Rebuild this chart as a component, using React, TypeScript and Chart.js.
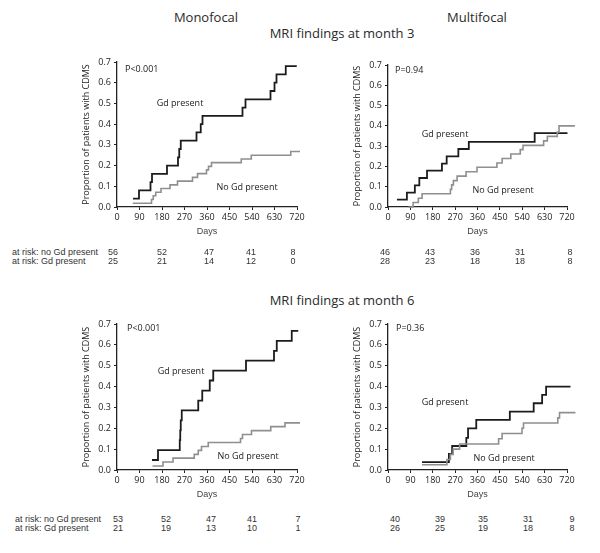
import React, { useEffect, useRef } from "react";
import { Chart, registerables } from "chart.js";

Chart.register(...registerables);

// ---------- data ----------
const xTickValues = [0, 90, 180, 270, 360, 450, 540, 630, 720];
const yTickValues = [0, 0.1, 0.2, 0.3, 0.4, 0.5, 0.6, 0.7];

// Monofocal, MRI at month 3
const monoM3GdDays = [64, 88, 134, 140, 200, 244, 249, 255, 318, 335, 342, 502, 514, 614, 630, 638, 675, 719];
const monoM3GdProp = [0.04, 0.08, 0.12, 0.16, 0.2, 0.24, 0.28, 0.32, 0.36, 0.4, 0.44, 0.48, 0.52, 0.56, 0.6, 0.64, 0.68, 0.68];
const monoM3NoGdDays = [63, 138, 145, 155, 176, 212, 242, 302, 322, 358, 366, 378, 497, 537, 695, 732];
const monoM3NoGdProp = [0.018, 0.036, 0.054, 0.071, 0.089, 0.107, 0.125, 0.143, 0.161, 0.179, 0.196, 0.214, 0.232, 0.25, 0.268, 0.268];

// Multifocal, MRI at month 3
const multiM3GdDays = [36, 76, 108, 126, 157, 217, 236, 283, 325, 590, 722];
const multiM3GdProp = [0.036, 0.071, 0.107, 0.143, 0.179, 0.214, 0.25, 0.286, 0.321, 0.364, 0.364];
const multiM3NoGdDays = [82, 101, 122, 137, 251, 256, 263, 278, 314, 358, 438, 459, 494, 532, 543, 626, 641, 681, 688, 752];
const multiM3NoGdProp = [0, 0.022, 0.043, 0.065, 0.087, 0.109, 0.13, 0.152, 0.174, 0.196, 0.217, 0.239, 0.261, 0.283, 0.304, 0.326, 0.348, 0.37, 0.4, 0.4];

// Monofocal, MRI at month 6
const monoM6GdDays = [140, 164, 251, 253, 255, 259, 325, 341, 371, 385, 516, 628, 639, 699, 725];
const monoM6GdProp = [0.048, 0.095, 0.143, 0.19, 0.238, 0.286, 0.333, 0.381, 0.429, 0.476, 0.524, 0.571, 0.619, 0.667, 0.667];
const monoM6NoGdDays = [142, 184, 224, 309, 325, 338, 365, 494, 502, 538, 615, 672, 732];
const monoM6NoGdProp = [0.019, 0.038, 0.057, 0.075, 0.094, 0.113, 0.132, 0.151, 0.17, 0.189, 0.208, 0.226, 0.226];

// Multifocal, MRI at month 6
const multiM6GdDays = [137, 245, 258, 315, 322, 355, 490, 586, 620, 636, 734];
const multiM6GdProp = [0.038, 0.077, 0.115, 0.154, 0.2, 0.24, 0.28, 0.32, 0.36, 0.4, 0.4];
const multiM6NoGdDays = [137, 237, 251, 262, 288, 445, 459, 539, 545, 683, 690, 754];
const multiM6NoGdProp = [0.025, 0.05, 0.075, 0.1, 0.125, 0.15, 0.175, 0.2, 0.225, 0.25, 0.275, 0.275];

// Numbers at risk
const monoM3AtRiskNoGd = [56, 52, 47, 41, 8];
const monoM3AtRiskGd = [25, 21, 14, 12, 0];
const multiM3AtRiskNoGd = [46, 43, 36, 31, 8];
const multiM3AtRiskGd = [28, 23, 18, 18, 8];
const monoM6AtRiskNoGd = [53, 52, 47, 41, 7];
const monoM6AtRiskGd = [21, 19, 13, 10, 1];
const multiM6AtRiskNoGd = [40, 39, 35, 31, 9];
const multiM6AtRiskGd = [26, 25, 19, 18, 8];

const pValues = ["P<0.001", "P=0.94", "P<0.001", "P=0.36"];

// ---------- styling / layout ----------
const FONT = "'Open Sans', 'DejaVu Sans', sans-serif";
const ARIAL = "'Liberation Sans', Arial, sans-serif";
const PAD_L = 36;
const PAD_T = 12;
const PAD_R = 24;
const PAD_B = 30;

type KMProps = {
  axisX: number;
  topY: number;
  bottomY: number;
  plotW: number;
  gdDays: number[];
  gdProp: number[];
  noDays: number[];
  noProp: number[];
};

function KMChart({ axisX, topY, bottomY, plotW, gdDays, gdProp, noDays, noProp }: KMProps) {
  const ref = useRef<HTMLCanvasElement | null>(null);
  const plotH = bottomY - topY;
  const w = PAD_L + plotW + PAD_R;
  const h = PAD_T + plotH + PAD_B;

  useEffect(() => {
    if (!ref.current) return;
    const chart = new Chart(ref.current, {
      type: "line",
      data: {
        datasets: [
          {
            label: "No Gd present",
            data: noDays.map((d, i) => ({ x: d, y: noProp[i] })),
            borderColor: "#8f8f8f",
            borderWidth: 1.6,
            stepped: "before",
            pointRadius: 0,
            fill: false,
            clip: false as any,
            borderJoinStyle: "miter",
          },
          {
            label: "Gd present",
            data: gdDays.map((d, i) => ({ x: d, y: gdProp[i] })),
            borderColor: "#1c1c1c",
            borderWidth: 1.8,
            stepped: "before",
            pointRadius: 0,
            fill: false,
            clip: false as any,
            borderJoinStyle: "miter",
          },
        ],
      },
      options: {
        responsive: false,
        maintainAspectRatio: false,
        animation: false,
        events: [],
        layout: { padding: { top: PAD_T, right: PAD_R, left: 0, bottom: 0 } },
        plugins: { legend: { display: false }, tooltip: { enabled: false } },
        scales: {
          x: {
            type: "linear",
            min: 0,
            max: 720,
            afterFit: (s: any) => {
              s.height = PAD_B;
            },
            afterBuildTicks: (s: any) => {
              s.ticks = xTickValues.map((v) => ({ value: v }));
            },
            grid: { drawOnChartArea: false, tickLength: 3, color: "#222", lineWidth: 1 },
            border: { color: "#222", width: 1.3 },
            ticks: { padding: 2, color: "#222", font: { family: FONT, size: 9 }, maxRotation: 0, autoSkip: false },
            title: { display: true, text: "Days", padding: 0, color: "#444", font: { family: ARIAL, size: 9 } },
          },
          y: {
            type: "linear",
            min: 0,
            max: 0.7,
            afterFit: (s: any) => {
              s.width = PAD_L;
            },
            afterBuildTicks: (s: any) => {
              s.ticks = yTickValues.map((v) => ({ value: v }));
            },
            grid: { drawOnChartArea: false, tickLength: 3, color: "#222", lineWidth: 1 },
            border: { color: "#222", width: 1.3 },
            ticks: {
              padding: 3,
              color: "#222",
              font: { family: FONT, size: 9 },
              callback: (v: any) => Number(v).toFixed(1),
              autoSkip: false,
            },
            title: {
              display: true,
              text: "Proportion of patients with CDMS",
              padding: 0,
              color: "#222",
              font: { family: FONT, size: 9 },
            },
          },
        },
      } as any,
    });
    return () => chart.destroy();
  }, []);

  return (
    <canvas
      ref={ref}
      width={w}
      height={h}
      style={{ position: "absolute", left: axisX - PAD_L, top: topY - PAD_T, width: w, height: h }}
    />
  );
}

type TxtProps = {
  x: number;
  y: number;
  size: number;
  family?: string;
  color?: string;
  align?: "left" | "center";
  children: React.ReactNode;
};

function Txt({ x, y, size, family = FONT, color = "#222", align = "center", children }: TxtProps) {
  return (
    <div
      style={{
        position: "absolute",
        left: x,
        top: y,
        transform: align === "center" ? "translate(-50%, -50%)" : "translate(0, -50%)",
        fontFamily: family,
        fontSize: size,
        color,
        whiteSpace: "nowrap",
        lineHeight: 1,
      }}
    >
      {children}
    </div>
  );
}

function AtRisk({ labelX, rowY, cols, noGd, gd, showLabels }: { labelX: number; rowY: number[]; cols: number[]; noGd: number[]; gd: number[]; showLabels: boolean }) {
  return (
    <>
      {showLabels && (
        <>
          <Txt x={labelX} y={rowY[0]} size={9} family={ARIAL} color="#333" align="left">at risk: no Gd present</Txt>
          <Txt x={labelX} y={rowY[1]} size={9} family={ARIAL} color="#333" align="left">at risk: Gd present</Txt>
        </>
      )}
      {noGd.map((n, i) => (
        <Txt key={"n" + i} x={cols[i]} y={rowY[0]} size={9} family={ARIAL} color="#333">{n}</Txt>
      ))}
      {gd.map((n, i) => (
        <Txt key={"g" + i} x={cols[i]} y={rowY[1]} size={9} family={ARIAL} color="#333">{n}</Txt>
      ))}
    </>
  );
}

export default function App() {
  return (
    <div style={{ position: "absolute", left: 0, top: 0, width: 600, height: 553, background: "#fff", overflow: "hidden" }}>
      <Txt x={206} y={17} size={13} color="#2a2a2a">Monofocal</Txt>
      <Txt x={477} y={17} size={13} color="#2a2a2a">Multifocal</Txt>
      <Txt x={342} y={33} size={13} color="#2a2a2a">MRI findings at month 3</Txt>
      <Txt x={342} y={300} size={13} color="#2a2a2a">MRI findings at month 6</Txt>

      <KMChart axisX={117} topY={62} bottomY={207} plotW={180} gdDays={monoM3GdDays} gdProp={monoM3GdProp} noDays={monoM3NoGdDays} noProp={monoM3NoGdProp} />
      <KMChart axisX={388} topY={65} bottomY={207} plotW={179} gdDays={multiM3GdDays} gdProp={multiM3GdProp} noDays={multiM3NoGdDays} noProp={multiM3NoGdProp} />
      <KMChart axisX={117} topY={324} bottomY={470} plotW={180} gdDays={monoM6GdDays} gdProp={monoM6GdProp} noDays={monoM6NoGdDays} noProp={monoM6NoGdProp} />
      <KMChart axisX={388} topY={324} bottomY={470} plotW={179} gdDays={multiM6GdDays} gdProp={multiM6GdProp} noDays={multiM6NoGdDays} noProp={multiM6NoGdProp} />

      {/* in-plot annotations */}
      <Txt x={125} y={68} size={9} align="left">{pValues[0]}</Txt>
      <Txt x={180} y={102} size={9}>Gd present</Txt>
      <Txt x={247} y={186} size={9}>No Gd present</Txt>

      <Txt x={395} y={69} size={9} align="left">{pValues[1]}</Txt>
      <Txt x={445} y={133} size={9}>Gd present</Txt>
      <Txt x={503} y={189} size={9}>No Gd present</Txt>

      <Txt x={127} y={327} size={9} align="left">{pValues[2]}</Txt>
      <Txt x={181} y={370} size={9}>Gd present</Txt>
      <Txt x={248} y={455} size={9}>No Gd present</Txt>

      <Txt x={396} y={327} size={9} align="left">{pValues[3]}</Txt>
      <Txt x={445} y={401} size={9}>Gd present</Txt>
      <Txt x={504} y={457} size={9}>No Gd present</Txt>

      <AtRisk labelX={12} rowY={[252, 261]} cols={[113, 162, 209, 251, 293]} noGd={monoM3AtRiskNoGd} gd={monoM3AtRiskGd} showLabels />
      <AtRisk labelX={12} rowY={[252, 261]} cols={[385, 430, 475, 520, 570]} noGd={multiM3AtRiskNoGd} gd={multiM3AtRiskGd} showLabels={false} />
      <AtRisk labelX={15} rowY={[519, 528]} cols={[118, 166, 211, 252, 298]} noGd={monoM6AtRiskNoGd} gd={monoM6AtRiskGd} showLabels />
      <AtRisk labelX={15} rowY={[519, 528]} cols={[395, 440, 483, 528, 572]} noGd={multiM6AtRiskNoGd} gd={multiM6AtRiskGd} showLabels={false} />
    </div>
  );
}
